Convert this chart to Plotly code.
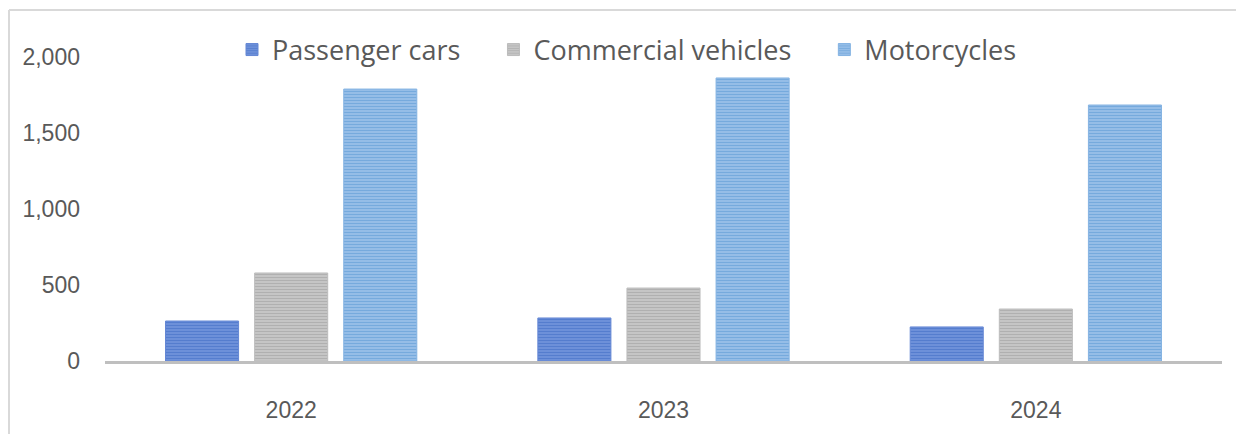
import plotly.graph_objects as go

# Annual registrations by vehicle type (thousands)
years = ["2022", "2023", "2024"]
passenger_cars = [263, 283, 224]
commercial_vehicles = [579, 480, 342]
motorcycles = [1789, 1862, 1684]

series = [
    ("Passenger cars", passenger_cars, "#3563c0", "#7596dd", "#6487d4"),
    ("Commercial vehicles", commercial_vehicles, "#969696", "#cbcbcb", "#bcbcbc"),
    ("Motorcycles", motorcycles, "#4d8fd0", "#9fc4ea", "#84b3e2"),
]

GAP = "\u00a0" * 4  # extra room between legend entries

fig = go.Figure()
for name, vals, dark, light, edge in series:
    fig.add_trace(go.Bar(
        x=years, y=vals, name=name + GAP,
        marker=dict(
            color=light,
            line=dict(color=edge, width=1),
            pattern=dict(shape="-", fgcolor=dark, bgcolor=light,
                         size=3, solidity=0.5, fillmode="overlay"),
        ),
    ))

# empty trace that brings the frame axes into being
fig.add_trace(go.Scatter(x=[], y=[], xaxis="x2", yaxis="y2",
                         showlegend=False, hoverinfo="skip"))

W, H = 1236, 434
# paper spans the framed area; the data axes sit inside it
FL, FT = 9, 10
fw, fh = W - FL, H - FT

def fx(x):
    return (x - FL) / fw

def fy(y):
    return (H - y) / fh

frame_line = dict(showline=True, linecolor="#d9d9d9", linewidth=1.5,
                  showgrid=False, zeroline=False, showticklabels=False,
                  ticks="", fixedrange=True, anchor="free", visible=True)

fig.update_layout(
    width=W, height=H,
    margin=dict(l=FL, r=0, t=FT, b=0, autoexpand=False),
    paper_bgcolor="white", plot_bgcolor="rgba(0,0,0,0)",
    barmode="group", bargap=0.282, bargroupgap=0.18,
    font=dict(family="Liberation Sans, Arial, sans-serif", color="#595959"),
    showlegend=True,
    legend=dict(
        orientation="h", xref="paper", yref="paper",
        x=fx(232), xanchor="left", y=fy(50), yanchor="middle",
        font=dict(family="Open Sans, sans-serif", size=27, color="#595959"),
        bgcolor="rgba(0,0,0,0)", traceorder="normal",
    ),
    xaxis=dict(
        domain=[fx(105), fx(1222)],
        showgrid=False, showline=True, linecolor="#bfbfbf", linewidth=3,
        ticks="", tickfont=dict(size=23, color="#595959"),
        ticklabelstandoff=26, automargin=False,
    ),
    yaxis=dict(
        domain=[fy(361), fy(57)],
        range=[0, 2000], tickvals=[0, 500, 1000, 1500, 2000],
        tickformat=",", showgrid=False, zeroline=False, showline=False,
        ticks="", tickfont=dict(size=23, color="#595959"),
        ticklabelstandoff=24, automargin=False,
    ),
    # frame: top and left edges
    xaxis2=dict(domain=[0, 1], position=1, side="top", range=[0, 1], **frame_line),
    yaxis2=dict(domain=[0, 1], position=0, side="left", range=[0, 1], **frame_line),
)

fig.write_html("out.html")
